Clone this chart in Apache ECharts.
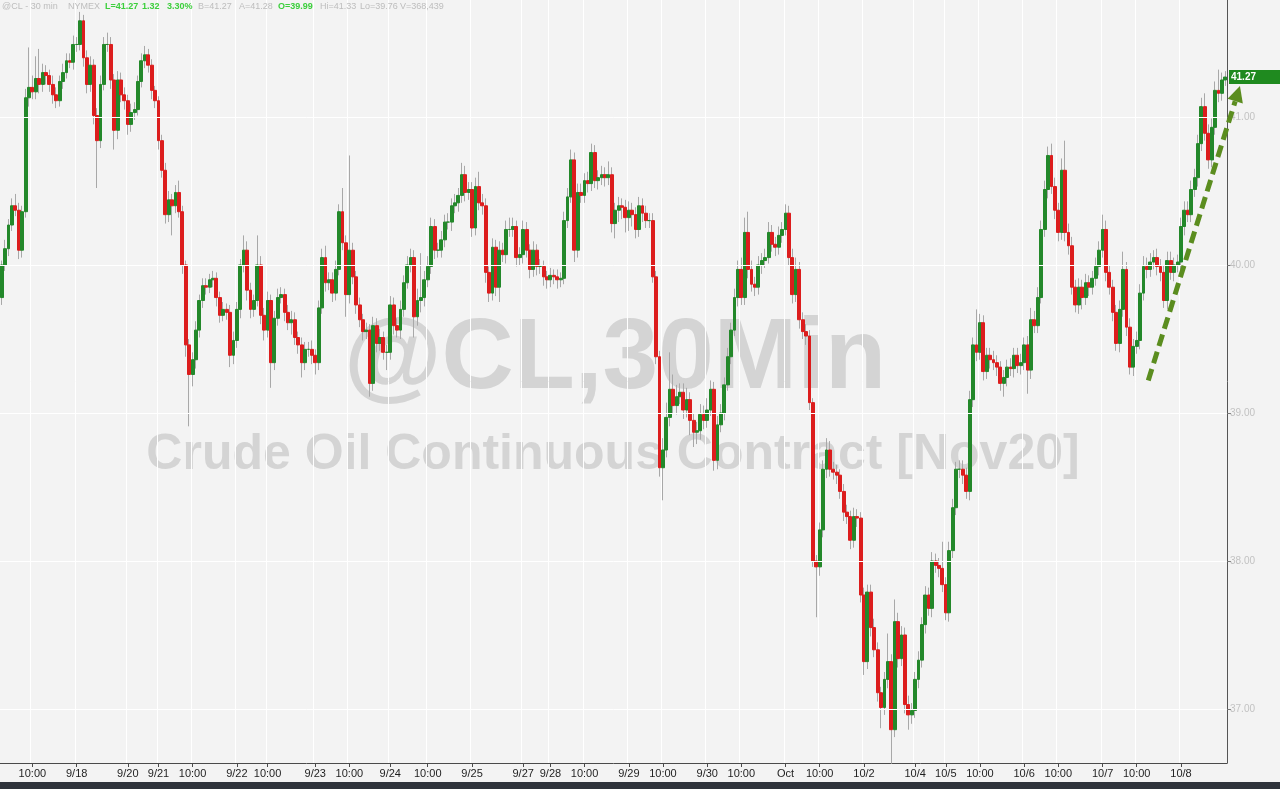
<!DOCTYPE html>
<html><head><meta charset="utf-8">
<script src="https://cdn.jsdelivr.net/npm/echarts@6/dist/echarts.min.js"></script>
<style>html,body{margin:0;padding:0;background:#f3f3f3;}#c{width:1280px;height:789px;}</style>
</head><body><div id="c"></div>
<script>
// ---- data (hourly bars) ----
const firstOpen = 39.78;
const closes = [
40.00,40.11,40.27,40.40,40.37,40.10,40.36,41.13,41.20,41.17,
41.26,41.22,41.30,41.28,41.22,41.15,41.11,41.24,41.30,41.38,
41.37,41.49,41.49,41.65,41.40,41.22,41.35,41.01,40.84,41.22,
41.49,41.49,41.25,40.91,41.25,41.15,41.11,40.95,41.03,41.05,
41.24,41.38,41.42,41.35,41.18,41.11,40.84,40.64,40.34,40.44,
40.40,40.49,40.36,40.00,39.46,39.26,39.36,39.56,39.76,39.86,
39.85,39.90,39.91,39.78,39.66,39.70,39.68,39.39,39.49,39.70,
40.00,40.10,39.83,39.70,39.76,40.00,39.66,39.56,39.76,39.34,
39.64,39.78,39.80,39.68,39.61,39.63,39.51,39.46,39.34,39.43,
39.43,39.39,39.34,39.71,40.05,39.88,39.90,39.81,39.97,40.36,
40.15,39.80,40.10,39.92,39.73,39.63,39.55,39.56,39.20,39.59,
39.47,39.51,39.41,39.41,39.73,39.59,39.56,39.70,39.88,40.00,
40.05,39.65,39.76,39.78,39.90,39.99,40.26,40.10,40.10,40.17,
40.29,40.29,40.40,40.42,40.47,40.61,40.49,40.51,40.25,40.53,
40.42,40.40,39.95,39.81,40.12,39.85,40.10,40.07,40.24,40.24,
40.26,40.05,40.07,40.24,40.10,39.97,40.10,39.99,39.99,39.92,
39.90,39.93,39.92,39.90,39.91,40.30,40.46,40.71,40.10,40.49,
40.47,40.57,40.55,40.76,40.57,40.59,40.61,40.59,40.61,40.28,
40.37,40.40,40.39,40.32,40.37,40.34,40.24,40.40,40.35,40.30,
40.30,39.92,39.38,38.63,38.75,38.97,39.16,39.05,39.11,39.14,
39.02,39.09,38.95,38.87,38.88,38.99,38.95,39.02,39.16,38.68,
38.92,39.00,39.19,39.38,39.56,39.78,39.97,39.78,40.22,39.97,
39.87,39.85,40.00,40.03,40.05,40.22,40.14,40.12,40.20,40.24,
40.35,40.05,39.80,39.97,39.63,39.55,39.52,39.07,38.00,37.96,
38.21,38.62,38.75,38.62,38.60,38.58,38.47,38.33,38.30,38.14,
38.30,38.29,37.77,37.32,37.79,37.55,37.40,37.11,37.01,37.20,
37.32,36.86,37.59,37.34,37.50,37.03,36.96,36.99,37.20,37.33,
37.57,37.77,37.68,38.00,37.97,37.95,37.84,37.65,38.07,38.36,
38.62,38.62,38.58,38.47,39.09,39.46,39.41,39.61,39.28,39.39,
39.36,39.34,39.31,39.20,39.24,39.31,39.30,39.39,39.32,39.34,
39.46,39.29,39.63,39.59,39.78,40.24,40.51,40.74,40.53,40.37,
40.22,40.64,40.22,40.13,39.85,39.73,39.85,39.78,39.88,39.85,
39.91,39.99,40.10,40.24,39.95,39.85,39.68,39.47,39.70,39.97,
39.58,39.31,39.45,39.49,39.81,39.99,39.97,40.02,40.05,39.99,
39.95,39.76,40.03,39.95,40.00,40.02,40.26,40.37,40.34,40.51,
40.59,40.82,41.07,40.89,40.71,40.93,41.18,41.16,41.25,41.27
];
// upper / lower wick lengths in cents
const wickUp = [
3,6,4,5,8,5,4,6,27,8, 15,20,6,5,4,6,5,4,6,5, 5,6,5,6,4,5,6,4,5,6, 5,8,5,4,6,5,5,4,6,5,
4,5,6,4,4,3,3,4,5,6, 4,5,8,4,3,4,5,6,4,5, 5,4,5,4,4,5,4,5,6,5, 4,10,6,5,4,20,6,5,6,4,
5,6,5,4,5,6,5,4,5,5, 5,6,4,5,6,8,5,5,6,5, 16,5,64,5,4,5,4,5,4,6, 5,6,4,5,6,5,5,6,5,6,
6,5,8,30,6,7,6,5,5,6, 5,6,5,6,5,8,6,5,5,6, 10,6,5,4,6,5,6,5,6,8, 6,4,5,6,5,4,6,4,5,4,
4,5,4,5,4,6,6,7,5,6, 6,5,6,6,5,5,6,5,9,5, 5,6,5,5,6,5,5,6,5,5, 5,5,4,4,8,10,25,10,8,6,
6,8,5,5,6,7,6,8,6,5, 6,6,5,6,5,6,6,8,10,14, 6,5,6,5,6,7,5,5,6,5, 6,5,6,8,5,5,5,4,3,4,
5,6,8,6,5,5,4,5,5,4, 6,5,4,5,5,5,6,5,4,5, 19,5,15,6,6,5,6,5,5,6, 5,6,5,6,5,5,18,5,6,6,
5,6,6,5,6,5,24,6,5,5, 5,6,5,4,5,5,6,5,5,6, 5,6,8,6,7,6,6,6,8,6, 5,8,20,6,6,5,6,5,6,5,
5,6,6,10,6,5,5,5,6,12, 5,6,5,6,6,7,6,6,5,6, 5,5,6,6,5,5,6,6,6,6, 6,6,6,9,6,6,6,14,5,4
];
const wickDn = [
5,4,5,4,4,6,5,4,6,5, 5,6,5,6,5,6,5,4,5,4, 4,5,5,4,6,6,5,6,32,5, 4,5,6,13,6,5,6,7,5,5,
4,4,5,5,6,5,6,5,6,5, 20,5,4,6,8,35,8,6,5,5, 5,4,5,6,5,4,5,8,6,5, 6,5,7,6,5,4,6,7,5,17,
5,5,4,6,5,8,5,6,10,5, 5,6,8,5,4,6,5,6,5,4, 5,15,6,5,6,5,6,5,9,5, 6,5,5,12,5,6,5,6,5,4,
5,14,6,8,6,5,5,6,5,5, 5,5,6,5,6,5,6,5,6,5, 5,6,7,6,5,6,10,5,6,5, 5,6,5,6,5,6,5,6,5,6,
6,5,5,6,5,4,5,4,8,5, 5,5,6,5,5,6,5,6,5,6, 10,8,8,10,9,8,6,5,6,5, 5,4,5,6,22,5,6,5,6,5,
6,5,10,10,8,6,6,5,4,7, 6,5,5,4,5,4,6,5,5,6, 5,6,5,6,5,4,5,6,5,5, 4,5,6,5,6,5,6,5,4,34,
6,5,6,5,5,6,5,6,5,6, 5,6,5,9,5,6,5,6,14,5, 6,23,5,6,5,6,10,6,5,6, 5,6,5,6,5,6,5,5,6,5,
5,6,6,5,6,5,6,5,6,5, 6,5,6,5,9,6,5,6,5,6, 5,16,6,5,5,4,5,6,5,6, 6,5,6,6,5,5,6,8,5,6,
5,5,6,5,6,5,6,5,6,5, 6,5,6,5,6,5,6,5,5,6, 6,5,6,5,6,5,5,6,5,5, 5,6,5,5,6,5,5,6,5,4
];
const xTickLabels = ['10:00','9/18','9/20','9/21','10:00','9/22','10:00','9/23','10:00','9/24','10:00','9/25','9/27','9/28','10:00','9/29','10:00','9/30','10:00','Oct','10:00','10/2','10/4','10/5','10:00','10/6','10:00','10/7','10:00','10/8'];
const xTickBars   = [9,22,37,46,56,69,78,92,102,114,125,138,153,161,171,184,194,207,217,230,240,253,268,277,287,300,310,323,333,346];
const yTickValues = [37,38,39,40,41];
const yMin = 36.635, yMax = 41.7905;
const lastPrice = 41.27;
const headerTexts = ['@CL - 30 min','NYMEX','L=41.27','1.32','3.30%','B=41.27','A=41.28','O=39.99','Hi=41.33','Lo=39.76','V=368,439'];
const headerGreen = [0,0,1,1,1,0,0,1,0,0,0];
const headerX     = [2,68,105,142,167,198,239,278,320,360,400];
const watermark1 = '@CL,30Min';
const watermark2 = 'Crude Oil Continuous Contract [Nov20]';
const trendArrow = {from:[336.4, 39.22], to:[363.3, 41.21]};

if (closes.length !== 360 || wickUp.length !== 360 || wickDn.length !== 360) {
  throw new Error('len ' + closes.length + ' ' + wickUp.length + ' ' + wickDn.length);
}

// ---- build ----
const N = closes.length;
const cats = closes.map((_, i) => 'bar' + i);
const wickData = [], bodyData = [];
for (let i = 0; i < N; i++) {
  const o = i ? closes[i - 1] : firstOpen, c = closes[i];
  const hi = Math.max(o, c) + wickUp[i] / 100, lo = Math.min(o, c) - wickDn[i] / 100;
  wickData.push([o, c, lo, hi]);
  bodyData.push([o, c, Math.min(o, c), Math.max(o, c)]);
}
const labelMap = new Map(xTickBars.map((b, k) => [b, xTickLabels[k]]));
const isTick = (i) => labelMap.has(i);
const FONT = "'Liberation Sans', Arial, sans-serif";

const chart = echarts.init(document.getElementById('c'), null, {renderer: 'canvas'});
const graphics = [
  {type:'text', z:0, silent:true, style:{text:watermark1, x:615, y:360, align:'center', verticalAlign:'middle', font:"bold 100px 'Liberation Sans', Arial, sans-serif", fill:'#d4d4d4'}},
  {type:'text', z:0, silent:true, style:{text:watermark2, x:613, y:455, align:'center', verticalAlign:'middle', font:"bold 50px 'Liberation Sans', Arial, sans-serif", fill:'#d4d4d4'}},
  {type:'rect', z:50, silent:true, shape:{x:0, y:782, width:1280, height:7}, style:{fill:'#2f333b'}}
];
headerTexts.forEach((t, k) => {
  graphics.push({type:'text', z:60, silent:true, style:{text:t, x:headerX[k], y:7, verticalAlign:'middle',
    font:(headerGreen[k] ? 'bold ' : '') + "9px 'Liberation Sans', Arial, sans-serif", fill: headerGreen[k] ? '#3ccf3c' : '#bdbdbd'}});
});

chart.setOption({
  animation: false,
  backgroundColor: '#f3f3f3',
  grid: {left: 0, right: 53, top: 0, bottom: 26, containLabel: false, outerBoundsMode: 'none'},
  xAxis: {
    type: 'category', data: cats, boundaryGap: true,
    axisLine: {show: true, lineStyle: {color: '#4a4a4a', width: 1}},
    axisTick: {show: true, interval: isTick, alignWithLabel: true, length: 4, lineStyle: {color: '#4a4a4a'}},
    axisLabel: {show: true, interval: isTick, formatter: (v, i) => labelMap.get(i) || '', color: '#1e1e1e', fontSize: 11, margin: 5,
      fontFamily: "'Liberation Sans Narrow', 'Liberation Sans', Arial, sans-serif"},
    splitLine: {show: true, interval: isTick, lineStyle: {color: '#ffffff', width: 1}}
  },
  yAxis: {
    type: 'value', position: 'right', min: yMin, max: yMax, scale: true,
    splitLine: {show: false},
    axisLine: {show: true, lineStyle: {color: '#555', width: 1}},
    axisTick: {show: true, customValues: yTickValues, length: 4, lineStyle: {color: '#777'}},
    axisLabel: {show: true, customValues: yTickValues, formatter: (v) => Number(v).toFixed(2), color: '#c2c2c2', fontSize: 10, margin: 3, fontFamily: FONT}
  },
  graphic: {elements: graphics},
  series: [
    {
      type: 'candlestick', name: 'wicks', data: wickData, barWidth: 1, z: 2,
      itemStyle: {color: '#a8a8a8', color0: '#a8a8a8', borderColor: '#a8a8a8', borderColor0: '#a8a8a8', borderWidth: 1},
      markLine: {silent: true, symbol: 'none', animation: false, label: {show: false},
        lineStyle: {color: '#ffffff', width: 1, type: 'solid', opacity: 1},
        data: yTickValues.map(v => ({yAxis: v}))}
    },
    {
      type: 'candlestick', name: 'bodies', data: bodyData, barWidth: 3.4, z: 3,
      itemStyle: {color: '#23882a', color0: '#dc1d1d', borderColor: '#23882a', borderColor0: '#dc1d1d', borderWidth: 1}
    }
  ]
});

// annotations placed through the chart's own scales
const p0 = chart.convertToPixel({gridIndex: 0}, [0, 40]);
const p1 = chart.convertToPixel({gridIndex: 0}, [N - 1, 40]);
const step = (p1[0] - p0[0]) / (N - 1);
const px = (idx) => p0[0] + idx * step;
const py = (v) => chart.convertToPixel({yAxisIndex: 0}, v);
const A = [px(trendArrow.from[0]), py(trendArrow.from[1])];
const T = [px(trendArrow.to[0]), py(trendArrow.to[1])];
const dx = T[0] - A[0], dy = T[1] - A[1], len = Math.hypot(dx, dy);
const ux = dx / len, uy = dy / len, nx = -uy, ny = ux;
const HL = 16, HW = 8;
const B = [T[0] - ux * HL, T[1] - uy * HL];
const axisX = px(N - 0.5);
const tagY = py(lastPrice);
chart.setOption({graphic: {elements: graphics.concat([
  {type: 'rect', z: 70, silent: true, shape: {x: axisX + 2, y: tagY - 7, width: 52, height: 14}, style: {fill: '#1f8a1f'}},
  {type: 'text', z: 71, silent: true, style: {text: lastPrice.toFixed(2), x: axisX + 4, y: tagY, verticalAlign: 'middle',
    font: "bold 10px 'Liberation Sans', Arial, sans-serif", fill: '#ffffff'}},
  {type: 'line', z: 80, silent: true, shape: {x1: A[0], y1: A[1], x2: B[0], y2: B[1]},
    style: {stroke: '#5b8d1f', lineWidth: 5, lineDash: [12, 6]}},
  {type: 'polygon', z: 80, silent: true, shape: {points: [T, [B[0] + nx * HW, B[1] + ny * HW], [B[0] - nx * HW, B[1] - ny * HW]]},
    style: {fill: '#5b8d1f'}}
])}});
</script>
</body></html>
